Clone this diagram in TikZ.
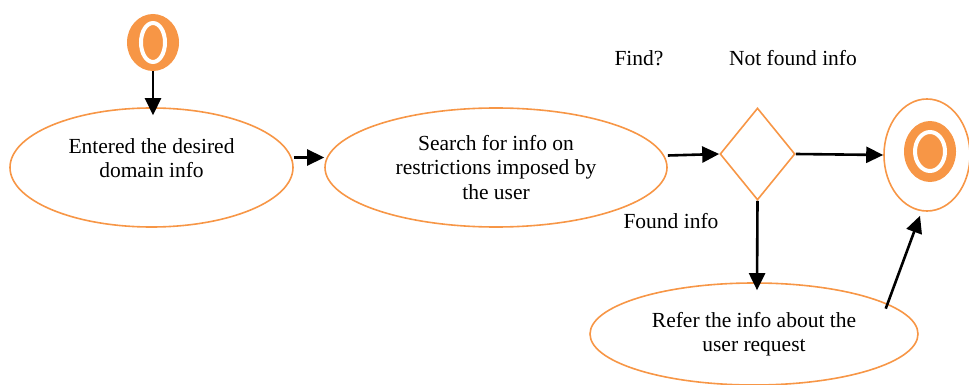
\documentclass[tikz,border=0pt]{standalone}
\usepackage{fontspec}
\setmainfont{Liberation Serif}
\usetikzlibrary{shapes.geometric,arrows.meta}
\definecolor{actorange}{HTML}{F79646}
\tikzset{
  act/.style={ellipse,draw=actorange,line width=1.6pt,inner sep=0pt,align=center,
    font=\fontsize{21.5}{24.5}\selectfont},
  dot/.style={ellipse,fill=actorange,inner sep=0pt},
  ring/.style={ellipse,fill=actorange,draw=white,line width=4pt,inner sep=0pt},
  flow/.style={line width=2.6pt,-{Triangle[length=17pt,width=16pt]}},
  lbl/.style={font=\fontsize{21.5}{24.5}\selectfont},
}

\begin{document}
\begin{tikzpicture}[x=1pt,y=-1pt]
\useasboundingbox (0,0) rectangle (969,385);

% Start
\node[dot,minimum width=52pt,minimum height=57pt] (start) at (153,42.5) {};
\node[ring,minimum width=24pt,minimum height=39pt] (startcore) at (153,42.5) {};

% Activities
\node[act,minimum width=283pt,minimum height=119pt,text depth=19pt] (enter) at (151.5,167.5)
  {Entered the desired\\domain info};
\node[act,minimum width=342pt,minimum height=119pt] (search) at (496,167.5)
  {Search for info on\\restrictions imposed by\\the user};
\node[act,minimum width=328pt,minimum height=102pt] (refer) at (754,334)
  {Refer the info about the\\user request};

% Decision
\node[diamond,draw=actorange,line width=1.6pt,aspect=0.815,inner sep=0pt,
  minimum width=75pt,minimum height=92pt] (find) at (757.5,154) {};

% End
\node[act,minimum width=86pt,minimum height=112pt] (finish) at (927,155) {};
\node[dot,minimum width=52pt,minimum height=61pt] (enddot) at (930,151.5) {};
\node[ring,minimum width=30pt,minimum height=39pt] (endcore) at (930,151.5) {};

% Labels
\node[lbl] (findq) at (639,58) {Find?};
\node[lbl] (notfound) at (793,58) {Not found info};
\node[lbl] (found) at (671,221) {Found info};

% Flow
\draw[flow] (start) -- ([yshift=-8pt]start.south |- enter.north);
\draw[flow] ([yshift=10pt]enter.east) -- ([yshift=10pt]search.west);
\draw[flow] ([yshift=12pt]search.east) -- (find.west);
\draw[flow] (find.east) -- (finish.west);
\draw[flow] (find.south) -- ([shift={(3pt,-8pt)}]refer.north);
\draw[flow] ([xshift=-12pt]refer.10) -- ([shift={(-7pt,-4pt)}]finish.south);
\end{tikzpicture}
\end{document}
